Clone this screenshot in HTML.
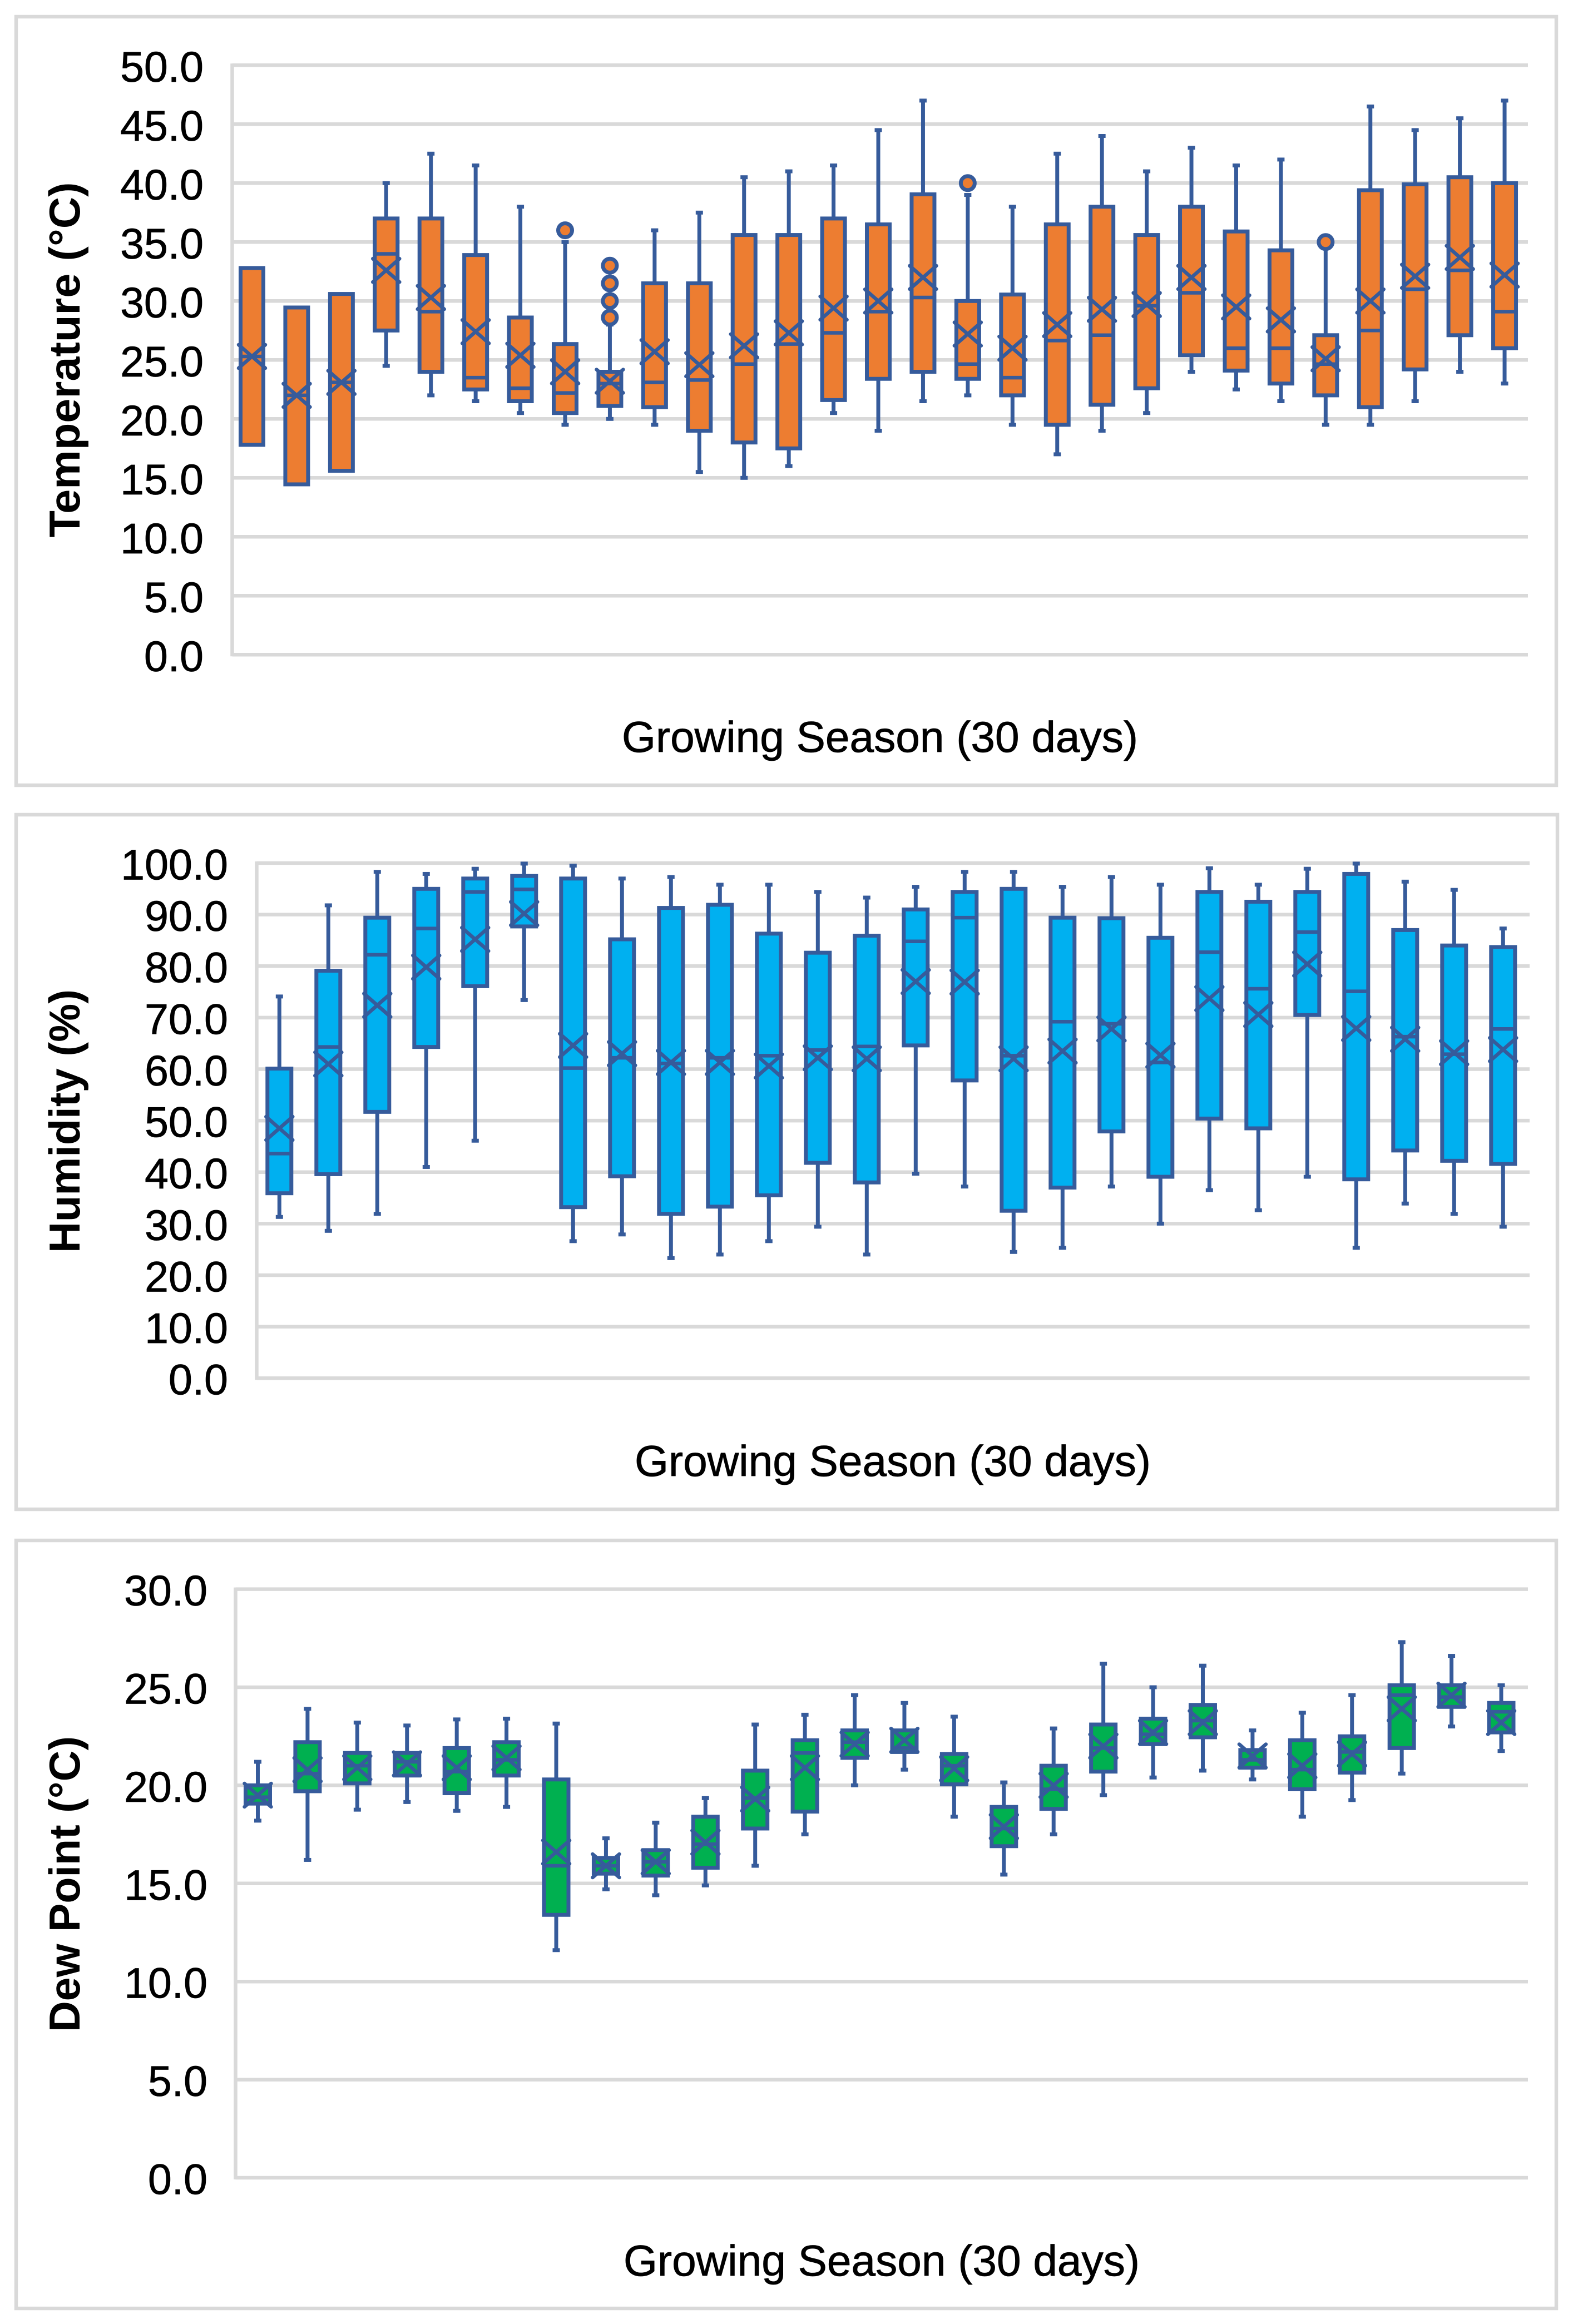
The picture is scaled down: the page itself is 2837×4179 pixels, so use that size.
<!DOCTYPE html>
<html lang="en">
<head>
<meta charset="utf-8">
<title>Growing season box plots</title>
<style>
html,body{margin:0;padding:0;background:#fff;}
svg{display:block;}
text{font-family:"Liberation Sans",Arial,sans-serif;fill:#000;}
</style>
</head>
<body>
<svg id="root" xmlns="http://www.w3.org/2000/svg" width="2837" height="4179" viewBox="0 0 2837 4179"></svg>
<script>
// ---------- Temperature data ----------
const tempTicks = ["0.0","5.0","10.0","15.0","20.0","25.0","30.0","35.0","40.0","45.0","50.0"];
const tempLow = [17.8,14.45,15.6,24.5,22,21.5,20.5,19.5,20,19.5,15.5,15,16,20.5,19,21.5,22,19.5,17,19,20.5,24,22.5,21.5,19.5,19.5,21.5,24,23];
const tempQ1 = [17.8,14.45,15.6,27.5,24,22.5,21.5,20.5,21.1,21,19,18,17.5,21.6,23.4,24,23.4,22,19.5,21.2,22.6,25.4,24.1,23,22,21,24.2,27.1,26];
const tempMedian = [25.3,22,23.1,34,29.1,23.5,22.6,22.2,23,23.1,23.3,24.65,26.35,27.3,29.1,30.3,24.65,23.5,26.65,27.1,29.6,30.7,26,26,24.65,27.5,31,32.6,29.1];
const tempQ3 = [32.8,29.45,30.6,37,37,33.9,28.6,26.35,24,31.5,31.5,35.6,35.6,37,36.5,39.05,30,30.55,36.5,38,35.6,38,35.9,34.3,27.1,39.4,39.9,40.5,40];
const tempHigh = [32.8,29.45,30.6,40,42.5,41.5,38,35,28,36,37.5,40.5,41,41.5,44.5,47,39,38,42.5,44,41,43,41.5,42,34.5,46.5,44.5,45.5,47];
const tempMean = [25.3,22,23.1,32.6,30.3,27.4,25.4,24,23.2,25.7,24.6,26.2,27.3,29.4,30,32,27.2,26,28,29.3,29.7,32,29.5,28.4,25.1,30,32.1,33.7,32.2];
const tempOutlierDays = [7,8,8,8,8,16,24];
const tempOutlierValues = [36,33,31.5,30,28.6,40,35];

// ---------- Humidity data ----------
const humTicks = ["0.0","10.0","20.0","30.0","40.0","50.0","60.0","70.0","80.0","90.0","100.0"];
const humLow = [31.3,28.6,31.9,41,46.1,73.4,26.6,27.9,23.3,24,26.6,29.4,24,39.7,37.2,24.5,25.3,37.2,30,36.5,32.6,39.1,25.3,33.9,31.9,29.4];
const humQ1 = [35.9,39.6,51.7,64.3,76.1,87.7,33.2,39.2,31.9,33.3,35.5,41.8,38,64.6,57.8,32.5,37,47.9,39.1,50.4,48.5,70.5,38.6,44.2,42.2,41.6];
const humMedian = [43.6,64.3,82.2,87.3,94.4,94.9,60.2,62.2,61.1,62.2,62.6,63.7,64.4,84.8,89.4,62.6,69.2,68.8,61.3,82.7,75.6,86.6,75.1,66.3,62.9,67.8];
const humQ3 = [60.1,79.1,89.4,95,97,97.5,97,85.2,91.3,91.9,86.3,82.6,85.9,91,94.4,95,89.4,89.3,85.5,94.4,92.5,94.4,97.9,87,84,83.7];
const humHigh = [74.1,91.8,98.3,97.9,98.9,99.9,99.5,97,97.3,95.8,95.8,94.4,93.3,95.4,98.3,98.3,95.4,97.3,95.8,99,95.8,98.9,99.9,96.4,94.8,87.3];
const humMean = [48.5,61,72.4,79.8,85.2,90.2,64.6,63,61.3,61.3,60.6,62.2,62,77,76.9,62,63.5,67.8,62.7,73.7,70.6,80.4,67.9,65.8,63.2,63.8];

// ---------- Dew point data ----------
const dewTicks = ["0.0","5.0","10.0","15.0","20.0","25.0","30.0"];
const dewLow = [18.2,16.2,18.76,19.15,18.7,18.9,11.6,14.7,14.4,14.9,15.9,17.5,20,20.8,18.4,15.45,17.5,19.5,20.4,20.75,20.3,18.4,19.25,20.6,23,21.75];
const dewQ1 = [19.07,19.7,20.1,20.5,19.6,20.5,13.4,15.5,15.4,15.8,17.8,18.66,21.4,21.7,20.05,16.9,18.8,20.7,22.1,22.45,20.9,19.8,20.65,21.9,24,22.7];
const dewMedian = [19.4,20.6,21,21.2,20.7,21.3,15.9,15.9,16.1,17,19.35,21.65,22.2,21.9,21,17.8,19.8,21.9,22.6,23.3,21.3,20.8,21.7,24.6,24.5,23.75];
const dewQ3 = [20,22.2,21.65,21.65,21.9,22.2,20.3,16.3,16.7,18.4,20.75,22.3,22.8,22.8,21.6,18.9,21,23.1,23.4,24.1,21.8,22.3,22.5,25.1,25.1,24.2];
const dewHigh = [21.2,23.9,23.2,23.05,23.36,23.4,23.15,17.3,18.1,19.35,23.1,23.6,24.6,24.2,23.5,20.15,22.9,26.2,25,26.1,22.8,23.7,24.6,27.3,26.6,25.1];
const dewMean = [19.5,20.8,20.9,21.1,20.9,21.4,16.6,15.9,16.1,17.1,19.3,20.9,22.1,22.3,20.85,17.9,20,22,22.7,23.2,21.5,21,21.6,23.9,24.6,23.2];

const SVG_NS = "http://www.w3.org/2000/svg";
const root = document.getElementById("root");
const INK = "#365B9B";
const GRID = "#D9D9D9";

function node(parent, tag, props) {
  const el = document.createElementNS(SVG_NS, tag);
  for (const k in props) el.setAttribute(k, props[k]);
  parent.appendChild(el);
  return el;
}

function drawChart(c) {
  const group = node(root, "g", {});
  
  

  const frame = node(group, "rect", {x:c.frame[0], y:c.frame[1], width:c.frame[2]-c.frame[0], height:c.frame[3]-c.frame[1], fill:"#fff", stroke:GRID, "stroke-width":6.5});
  
  

  const maxTick = parseFloat(c.ticks[c.ticks.length - 1]);
  const yScale = v => c.y0 + (c.yTop - c.y0) * v / maxTick;
  const xScale = i => c.xFirst + i * c.xStep;

  c.ticks.forEach(label => {
    const v = parseFloat(label);
    const y = yScale(v);
    const grid = node(group, "line", {x1:c.axisX, x2:c.gridEnd, y1:y, y2:y, stroke:GRID, "stroke-width":6.5});
    
    
    const tick = node(group, "text", {x:c.tickX, y:y + 29.5, "text-anchor":"end", "font-size":77, stroke:"#000", "stroke-width":0.8});
    tick.textContent = label;
    
    
  });

  const axis = node(group, "line", {x1:c.axisX, x2:c.axisX, y1:c.yTop - 3, y2:c.y0 + 3, stroke:GRID, "stroke-width":6.5});
  
  

  const yTitle = node(group, "text", {transform:"translate(" + c.titleX + "," + c.titleY + ") rotate(-90)", "text-anchor":"middle", "font-size":78, "font-weight":"bold", textLength:c.titleLen, lengthAdjust:"spacingAndGlyphs"});
  yTitle.textContent = c.title;
  
  

  const xTitle = node(group, "text", {x:c.xLabelX, y:c.xLabelY, "text-anchor":"middle", "font-size":78, textLength:c.xLabelLen, lengthAdjust:"spacingAndGlyphs", stroke:"#000", "stroke-width":0.8});
  xTitle.textContent = "Growing Season (30 days)";
  
  

  c.median.forEach((med, i) => {
    const x = xScale(i);
    const day = node(group, "g", {});
    
    

    const yHigh = yScale(c.high[i]), yLow = yScale(c.low[i]);
    const yQ1 = yScale(c.q1[i]), yQ3 = yScale(c.q3[i]);
    const w = c.boxWidth;

    if (c.high[i] > c.q3[i]) {
      const upper = node(day, "line", {x1:x, x2:x, y1:yHigh, y2:yQ3, stroke:INK, "stroke-width":7});
      
      
      const upperCap = node(day, "line", {x1:x - 6.5, x2:x + 6.5, y1:yHigh, y2:yHigh, stroke:INK, "stroke-width":7});
      
      
    }
    if (c.low[i] < c.q1[i]) {
      const lower = node(day, "line", {x1:x, x2:x, y1:yQ1, y2:yLow, stroke:INK, "stroke-width":7});
      
      
      const lowerCap = node(day, "line", {x1:x - 6.5, x2:x + 6.5, y1:yLow, y2:yLow, stroke:INK, "stroke-width":7});
      
      
    }

    const box = node(day, "rect", {x:x - w / 2, y:yQ3, width:w, height:yQ1 - yQ3, fill:c.fill, stroke:INK, "stroke-width":7});
    
    

    const yMed = yScale(med);
    const medianLine = node(day, "line", {x1:x - w / 2, x2:x + w / 2, y1:yMed, y2:yMed, stroke:INK, "stroke-width":6.5});
    
    

    const yMean = yScale(c.mean[i]);
    const meanMark = node(day, "path", {d:"M" + (x - 24) + " " + (yMean - 21) + "L" + (x + 24) + " " + (yMean + 21) + "M" + (x + 24) + " " + (yMean - 21) + "L" + (x - 24) + " " + (yMean + 21), fill:"none", stroke:INK, "stroke-width":6.5, "stroke-linecap":"round"});
    
    
  });

  (c.outlierDays || []).forEach((d, i) => {
    const dot = node(group, "circle", {cx:xScale(d), cy:yScale(c.outlierValues[i]), r:12.5, fill:c.fill, stroke:INK, "stroke-width":7});
    
    
  });
}

drawChart({
  name:"temperature-chart", title:"Temperature (°C)", fill:"#ED7D31",
  ticks:tempTicks, low:tempLow, q1:tempQ1, median:tempMedian, q3:tempQ3, high:tempHigh, mean:tempMean,
  outlierDays:tempOutlierDays, outlierValues:tempOutlierValues,
  frame:[29,30,2798,1412], axisX:417.5, gridEnd:2747, y0:1177.3, yTop:117.3,
  xFirst:453, xStep:80.43, boxWidth:41, tickX:366,
  titleX:143, titleY:647, titleLen:639, xLabelX:1582, xLabelY:1352, xLabelLen:928
});

drawChart({
  name:"humidity-chart", title:"Humidity (%)", fill:"#00B0F0",
  ticks:humTicks, low:humLow, q1:humQ1, median:humMedian, q3:humQ3, high:humHigh, mean:humMean,
  frame:[29,1465,2800,2714], axisX:461.5, gridEnd:2750, y0:2478.2, yTop:1552,
  xFirst:502.3, xStep:88, boxWidth:43, tickX:410,
  titleX:143, titleY:2016, titleLen:474, xLabelX:1605, xLabelY:2654, xLabelLen:928
});

drawChart({
  name:"dew-point-chart", title:"Dew Point (°C)", fill:"#00B050",
  ticks:dewTicks, low:dewLow, q1:dewQ1, median:dewMedian, q3:dewQ3, high:dewHigh, mean:dewMean,
  frame:[29,2770,2798,4151], axisX:423.5, gridEnd:2747, y0:3916, yTop:2857.6,
  xFirst:463.5, xStep:89.42, boxWidth:44, tickX:373,
  titleX:143, titleY:3388, titleLen:532, xLabelX:1585, xLabelY:4092, xLabelLen:928
});
</script>
</body>
</html>
